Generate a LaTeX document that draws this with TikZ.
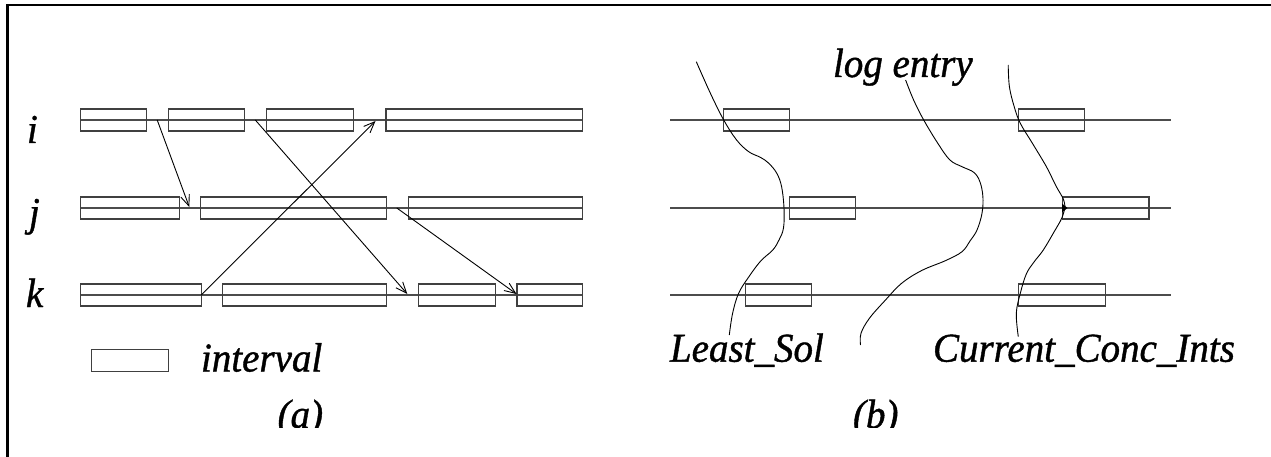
\documentclass[tikz,border=0pt]{standalone}
\usepackage{fontspec}
\setmainfont{Liberation Serif}
\newfontfamily\lblfont{Liberation Serif Italic}[FakeBold=1.0]
\usetikzlibrary{arrows.meta}
\tikzset{
  ibox/.style={draw=black!75, line width=1.3pt, rectangle, inner sep=0pt, outer sep=0pt, minimum height=22pt},
  rowline/.style={draw=black!70, line width=1.3pt},
  msg/.style={draw=black, line width=0.9pt, -{Straight Barb[length=11pt,width=9pt,line width=0.9pt]}},
  cut/.style={draw=black, line width=0.9pt},
  lbl/.style={inner sep=0pt, outer sep=0pt, anchor=base west, font=\lblfont\fontsize{39}{46}\selectfont, yscale=1.05},
  frame/.style={draw=black, line width=2.8pt}
}
\newcommand\ivbox[4]{\node[ibox, minimum width={(#3-#2)*1pt}] (#1) at ({(#2+#3)/2},#4) {};}
\begin{document}
\begin{tikzpicture}[x=1pt,y=-1pt]
\useasboundingbox (0,0) rectangle (1271,457);
% frame (top and left edges)
\coordinate (fbl) at (7.5,470);
\coordinate (ftl) at (7.5,5);
\coordinate (ftr) at (1280,5);
\draw[frame] (fbl) -- (ftl) -- (ftr);

% ---------- part (a) ----------
\node[lbl] (li) at (27,143) {i};
\node[lbl] (lj) at (29,226) {j};
\node[lbl] (lk) at (26,307) {k};

\coordinate (ia0) at (80.8,120);  \coordinate (ia1) at (582.4,120);
\coordinate (ja0) at (80.8,208);  \coordinate (ja1) at (582.4,208);
\coordinate (ka0) at (80.8,295);  \coordinate (ka1) at (582.4,295);
\draw[rowline] (ia0) -- (ia1);
\draw[rowline] (ja0) -- (ja1);
\draw[rowline] (ka0) -- (ka1);

\ivbox{i1}{80.8}{146.6}{120}
\ivbox{i2}{168.4}{244.8}{120}
\ivbox{i3}{266.2}{353.6}{120}
\ivbox{i4}{386.1}{582.4}{120}
\ivbox{j1}{80.8}{179.4}{208}
\ivbox{j2}{200.8}{386.3}{208}
\ivbox{j3}{408.2}{582.4}{208}
\ivbox{k1}{80.8}{201.2}{295}
\ivbox{k2}{222.4}{386.5}{295}
\ivbox{k3}{418.4}{495.5}{295}
\ivbox{k4}{517.1}{582.4}{295}

\coordinate (s1) at (157.2,120); \coordinate (e1) at (189.3,207);
\coordinate (s2) at (255.3,120); \coordinate (e2) at (407.3,294);
\coordinate (s3) at (201.2,295); \coordinate (e3) at (375.5,121);
\coordinate (s4) at (396.8,208); \coordinate (e4) at (516.5,294);
\draw[msg] (s1) -- (e1);
\draw[msg] (s2) -- (e2);
\draw[msg] (s3) -- (e3);
\draw[msg] (s4) -- (e4);

\node[ibox, minimum width=76.4pt] (legend) at (130,360.5) {};
\node[lbl] (interval) at (201,371.5) {interval};

% ---------- part (b) ----------
\coordinate (bi0) at (670.2,120); \coordinate (bi1) at (1171.2,120);
\coordinate (bj0) at (670.2,208); \coordinate (bj1) at (1171.2,208);
\coordinate (bk0) at (670.2,295); \coordinate (bk1) at (1171.2,295);
\draw[rowline] (bi0) -- (bi1);
\draw[rowline] (bj0) -- (bj1);
\draw[rowline] (bk0) -- (bk1);

\ivbox{bi1b}{723.7}{789.7}{120}
\ivbox{bi2b}{1018.3}{1084.3}{120}
\ivbox{bj1b}{789.7}{855.3}{208}
\ivbox{bj2b}{1062.5}{1149}{208}
\ivbox{bk1b}{745.8}{811.4}{295}
\ivbox{bk2b}{1018.3}{1105.6}{295}

\node[lbl] (logentry) at (833,77) {log entry};
\node[lbl] (leastsol) at (670,361.7) {Least\_Sol};
\node[lbl] (cci) at (933,361.7) {Current\_Conc\_Ints};

% cuts
\draw[cut] plot[smooth, tension=0.6] coordinates {
 (696.3,61.7) (710.4,93.3) (723.7,120) (736.6,140) (748.7,151.7) (760.7,157.5)
 (768.8,163.3) (776.8,173.3) (781.6,186.7) (784,208) (783.5,228) (779,240)
 (772.8,250) (760.7,261) (748.7,277) (738.6,293.3) (732.6,313.3) (729.3,335)};
\draw[cut] plot[smooth, tension=0.6] coordinates {
 (905.6,80) (913.6,100) (923.7,120) (937.8,143.3) (949.9,160) (962,166.7)
 (974,172.5) (980,182) (982.9,196.7) (982,213.3) (977,230) (970,241)
 (962,251.7) (945.8,260.5) (921.7,270.5) (901.6,283.3) (885.5,300) (869.4,318.3)
 (861,333.3) (860.5,345)};
\coordinate (arr) at (1065,207.5);
\draw[cut] plot[smooth, tension=0.6] coordinates {
 (1008.2,65) (1009.4,86.7) (1014.2,106.7) (1020.3,123.3) (1032.4,143.3)
 (1046.4,166.7) (1056,186) (1063.3,199) (1065,207.5)};
\draw[cut] plot[smooth, tension=0.6] coordinates {
 (1065,207.5) (1061.7,218.3) (1054,232) (1043.3,250) (1034,262) (1026.3,274)
 (1020.3,293.3) (1016.3,313.3) (1018.3,336.7)};
\fill[black] (1062,203.5) -- (1067.5,208) -- (1062,212.5) -- cycle;

% captions, cut at the bottom as in the reference
\begin{scope}
\clip (0,0) rectangle (1271,427.5);
\node[lbl] (capa) at (277.6,428) {(a)};
\node[lbl] (capb) at (853,428) {(b)};
\end{scope}
\end{tikzpicture}
\end{document}
